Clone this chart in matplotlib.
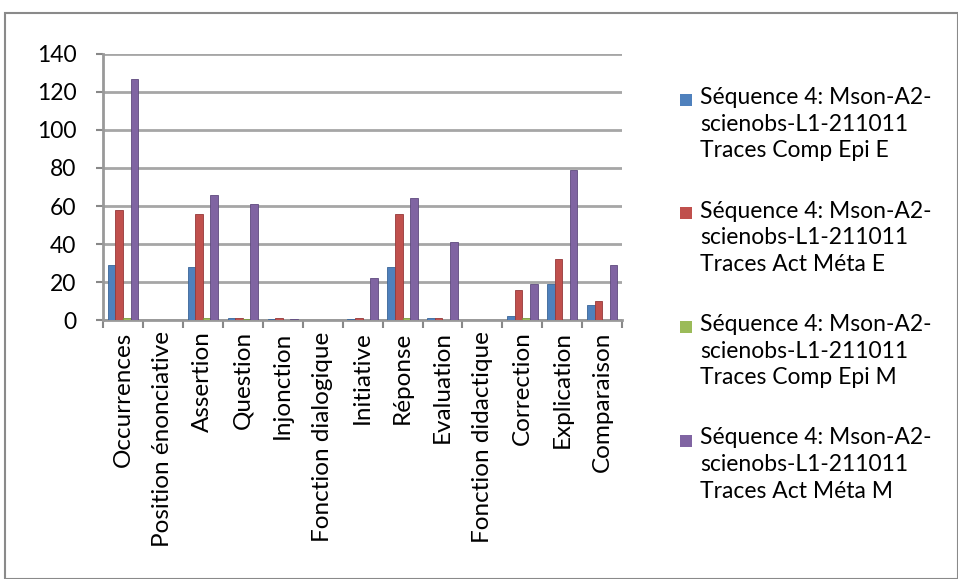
import numpy as np
import matplotlib.pyplot as plt
from matplotlib.patches import Rectangle

plt.rcParams['font.family'] = ['Lato', 'DejaVu Sans']

categories = ['Occurrences', 'Position énonciative', 'Assertion', 'Question', 'Injonction',
              'Fonction dialogique', 'Initiative', 'Réponse', 'Evaluation', 'Fonction didactique',
              'Correction', 'Explication', 'Comparaison']

comp_epi_e = [29, 0, 28, 1, 0.5, 0, 0.5, 28, 1, 0, 2, 19, 8]
act_meta_e = [58, 0, 56, 1, 1, 0, 1, 56, 1, 0, 16, 32, 10]
comp_epi_m = [1, 0, 1, 0.5, 0, 0, 0, 1, 0, 0, 1, 0.3, 0]
act_meta_m = [127, 0, 66, 61, 0.5, 0, 22, 64, 41, 0, 19, 79, 29]

labels = ['Séquence 4: Mson-A2-\nscienobs-L1-211011\nTraces Comp Epi E',
          'Séquence 4: Mson-A2-\nscienobs-L1-211011\nTraces Act Méta E',
          'Séquence 4: Mson-A2-\nscienobs-L1-211011\nTraces Comp Epi M',
          'Séquence 4: Mson-A2-\nscienobs-L1-211011\nTraces Act Méta M']
colors = ['#4F81BD', '#C0504D', '#9BBB59', '#8064A2']
edges = ['#3A6597', '#96393A', '#7A9840', '#5F4A7E']

fig = plt.figure(figsize=(9.58, 5.79), dpi=100)
fig.patches.append(Rectangle((0.005, 0.0), 0.995, 0.977, transform=fig.transFigure,
                             fill=False, edgecolor='#8a8a8a', linewidth=1.5))

ax = fig.add_axes([0.1075, 0.447, 0.542, 0.46])
x = np.arange(len(categories))
w = 0.19
series = [comp_epi_e, act_meta_e, comp_epi_m, act_meta_m]
for i, vals in enumerate(series):
    ax.bar(x + (i - 1.5) * w, vals, w, color=colors[i], edgecolor=edges[i],
           linewidth=0.6, label=labels[i], zorder=3)

ax.set_xlim(-0.5, len(categories) - 0.5)
ax.set_ylim(0, 140)
ax.set_yticks(range(0, 141, 20))
ax.tick_params(axis='y', labelsize=16.5, length=5, color='#888888', width=1.5, pad=14)
ax.yaxis.grid(True, color='#a6a6a6', linewidth=2)
ax.set_axisbelow(True)

ax.set_xticks(x)
ax.set_xticklabels(categories, rotation=90, fontsize=17.5)
ax.set_xticks(np.arange(-0.5, len(categories), 1), minor=True)
ax.tick_params(axis='x', which='major', length=0, pad=8)
ax.tick_params(axis='x', which='minor', length=6, color='#888888', width=1.5)
for s in ['top', 'right']:
    ax.spines[s].set_visible(False)
for s in ['left', 'bottom']:
    ax.spines[s].set_color('#999999')
    ax.spines[s].set_linewidth(2)

# legend drawn by hand so the swatch sits on the first line of each entry
W, H = 958, 579
for i, lab in enumerate(labels):
    y0 = 100 + i * 113.5
    fig.patches.append(Rectangle((680 / W, 1 - (y0 + 6) / H), 12 / W, 12 / H,
                                 transform=fig.transFigure, facecolor=colors[i],
                                 edgecolor='none'))
    fig.text(700 / W, 1 - (y0 - 13) / H, lab, fontsize=16.5, va='top', ha='left',
             linespacing=1.33)

fig.savefig('out.png', dpi=100)
